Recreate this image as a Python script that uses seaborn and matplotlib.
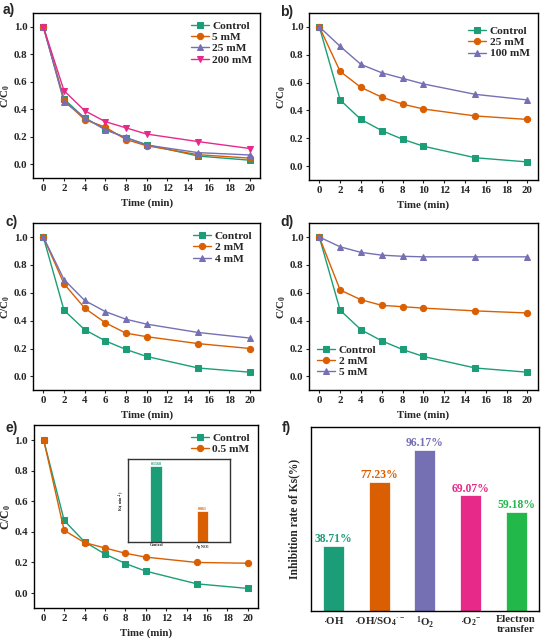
import matplotlib
matplotlib.use("Agg")
import matplotlib.pyplot as plt
import seaborn as sns
import numpy as np
import pandas as pd

sns.set_theme(style="ticks")
plt.rcParams['font.family'] = ['Liberation Serif', 'DejaVu Serif']
plt.rcParams['font.weight'] = 'bold'
plt.rcParams['axes.labelweight'] = 'bold'
plt.rcParams['mathtext.fontset'] = 'custom'
plt.rcParams['mathtext.rm'] = 'Liberation Serif:bold'
plt.rcParams['mathtext.it'] = 'Liberation Serif:bold'
plt.rcParams['mathtext.bf'] = 'Liberation Serif:bold'

# ---------------- data ----------------
time = [0, 2, 4, 6, 8, 10, 15, 20]
control = [1.0, 0.475, 0.335, 0.255, 0.193, 0.143, 0.06, 0.03]

a_5mM = [1.0, 0.465, 0.325, 0.27, 0.18, 0.135, 0.07, 0.045]
a_25mM = [1.0, 0.455, 0.34, 0.25, 0.195, 0.14, 0.085, 0.068]
a_200mM = [1.0, 0.535, 0.39, 0.31, 0.265, 0.22, 0.165, 0.115]

b_25mM = [1.0, 0.68, 0.565, 0.495, 0.445, 0.41, 0.36, 0.335]
b_100mM = [1.0, 0.86, 0.73, 0.67, 0.63, 0.59, 0.515, 0.475]

c_2mM = [1.0, 0.665, 0.49, 0.385, 0.31, 0.285, 0.235, 0.2]
c_4mM = [1.0, 0.695, 0.545, 0.465, 0.41, 0.375, 0.315, 0.275]

d_2mM = [1.0, 0.62, 0.55, 0.51, 0.50, 0.49, 0.47, 0.455]
d_5mM = [1.0, 0.93, 0.89, 0.87, 0.862, 0.858, 0.858, 0.858]

e_05mM = [1.0, 0.41, 0.33, 0.295, 0.26, 0.235, 0.2, 0.195]

inset_labels = ["Control", "AgNO$_3$"]
inset_values = [0.1568, 0.064]
inset_texts = ["0.1568", "0.061"]

f_labels = [r"$\cdot$OH", r"$\cdot$OH/SO$_4$$^{\cdot -}$", r"$^1$O$_2$", r"$\cdot$O$_2$$^{-}$", "Electron\ntransfer"]
f_values = [38.71, 77.23, 96.17, 69.07, 59.18]
f_texts = ["38.71%", "77.23%", "96.17%", "69.07%", "59.18%"]

GREEN = "#1b9e77"
ORANGE = "#d95f02"
PURPLE = "#7570b3"
PINK = "#e7298a"
LGREEN = "#22b84a"

fig = plt.figure(figsize=(5.41, 6.43), dpi=100)

FS = 7.8

def style_line_ax(ax, ylab_fs=FS):
    ax.set_xlim(-1, 21)
    ax.set_ylim(-0.1, 1.1)
    ax.set_xticks(range(0, 21, 2))
    ax.set_yticks([0.0, 0.2, 0.4, 0.6, 0.8, 1.0])
    ax.set_yticklabels(["0.0", "0.2", "0.4", "0.6", "0.8", "1.0"])
    ax.tick_params(labelsize=FS, width=0.8, length=2.5, direction='out', pad=1.5)
    for lab in ax.get_xticklabels() + ax.get_yticklabels():
        lab.set_fontweight('bold')
    for s in ax.spines.values():
        s.set_linewidth(1.0)
        s.set_color('black')
    ax.set_xlabel("Time (min)", fontsize=FS, fontweight='bold', labelpad=4)
    ax.set_ylabel(r"C/C$_0$", fontsize=ylab_fs, fontweight='bold', labelpad=1)

def plot_series(ax, series, legend_loc="upper right", bbox=None):
    for vals, col, mk, lab in series:
        sns.lineplot(x=time, y=vals, ax=ax, color=col, marker=mk, markersize=4.5,
                     markeredgecolor=col, linewidth=1.0, label=lab)
    kw = dict(loc=legend_loc, frameon=False, fontsize=FS + 0.4, handlelength=1.6,
              handletextpad=0.3, labelspacing=0.12, borderaxespad=0.3)
    if bbox is not None:
        kw['bbox_to_anchor'] = bbox
    leg = ax.legend(**kw)
    for t in leg.get_texts():
        t.set_fontweight('bold')

# a
ax_a = fig.add_axes([0.061, 0.723, 0.420, 0.257])
plot_series(ax_a, [(control, GREEN, 's', 'Control'), (a_5mM, ORANGE, 'o', '5 mM'),
                   (a_25mM, PURPLE, '^', '25 mM'), (a_200mM, PINK, 'v', '200 mM')])
style_line_ax(ax_a)

# b
ax_b = fig.add_axes([0.571, 0.720, 0.423, 0.260])
plot_series(ax_b, [(control, GREEN, 's', 'Control'), (b_25mM, ORANGE, 'o', '25 mM'),
                   (b_100mM, PURPLE, '^', '100 mM')], bbox=(1.0, 0.97))
style_line_ax(ax_b)

# c
ax_c = fig.add_axes([0.061, 0.393, 0.420, 0.260])
plot_series(ax_c, [(control, GREEN, 's', 'Control'), (c_2mM, ORANGE, 'o', '2 mM'),
                   (c_4mM, PURPLE, '^', '4 mM')])
style_line_ax(ax_c)

# d
ax_d = fig.add_axes([0.571, 0.393, 0.423, 0.260])
plot_series(ax_d, [(control, GREEN, 's', 'Control'), (d_2mM, ORANGE, 'o', '2 mM'),
                   (d_5mM, PURPLE, '^', '5 mM')], legend_loc="lower left", bbox=(0.0, 0.03))
style_line_ax(ax_d)

# e
ax_e = fig.add_axes([0.062, 0.054, 0.415, 0.285])
plot_series(ax_e, [(control, GREEN, 's', 'Control'), (e_05mM, ORANGE, 'o', '0.5 mM')])
style_line_ax(ax_e, ylab_fs=FS + 0.6)

# inset
ax_in = fig.add_axes([0.237, 0.157, 0.189, 0.129])
sns.barplot(x=inset_labels, y=inset_values, ax=ax_in, palette=[GREEN, ORANGE],
            hue=inset_labels, legend=False, width=0.25, edgecolor='white',
            linewidth=0.5, saturation=1)
ax_in.set_xlim(-0.6, 1.6)
ax_in.set_ylim(0, 0.17)
ax_in.set_yticks([])
ax_in.tick_params(axis='x', labelsize=3, length=0, pad=1)
ax_in.set_ylabel("Ks( min$^{-1}$)", fontsize=3, labelpad=1)
for i, (v, t) in enumerate(zip(inset_values, inset_texts)):
    ax_in.text(i, v, t, ha='center', va='bottom', fontsize=3,
               color=[GREEN, ORANGE][i])
for s in ax_in.spines.values():
    s.set_linewidth(1.0)
    s.set_color('#333333')

# f
ax_f = fig.add_axes([0.575, 0.050, 0.421, 0.286])
f_cols = [GREEN, ORANGE, PURPLE, PINK, LGREEN]
sns.barplot(x=list(range(5)), y=f_values, ax=ax_f, palette=f_cols, hue=list(range(5)),
            legend=False, width=0.46, edgecolor='white', linewidth=0.5, saturation=1)
ax_f.set_ylim(0, 110)
ax_f.set_xlim(-0.5, 4.5)
ax_f.set_yticks([])
ax_f.set_xticks(range(5))
ax_f.set_xticklabels(f_labels, fontsize=FS, fontweight='bold', linespacing=1.1)
ax_f.tick_params(axis='x', length=0, pad=3)
ax_f.set_ylabel("Inhibition rate of Ks(%)", fontsize=FS + 0.5, fontweight='bold', labelpad=8)
for i, (v, t) in enumerate(zip(f_values, f_texts)):
    ax_f.text(i, v + 0.5, t, ha='center', va='bottom', fontsize=FS + 0.6,
              fontweight='bold', color=f_cols[i])
for s in ax_f.spines.values():
    s.set_linewidth(1.0)
    s.set_color('black')

# panel labels
for lab, x, y in [("a)", 3, 10), ("b)", 280, 12), ("c)", 6, 222), ("d)", 280, 222),
                  ("e)", 6, 428), ("f)", 282, 428)]:
    fig.text(x / 541, 1 - y / 643, lab, fontsize=10, fontweight='bold',
             family=['Liberation Sans', 'DejaVu Sans'], ha='left', va='center')

fig.savefig("out.png", dpi=100)
